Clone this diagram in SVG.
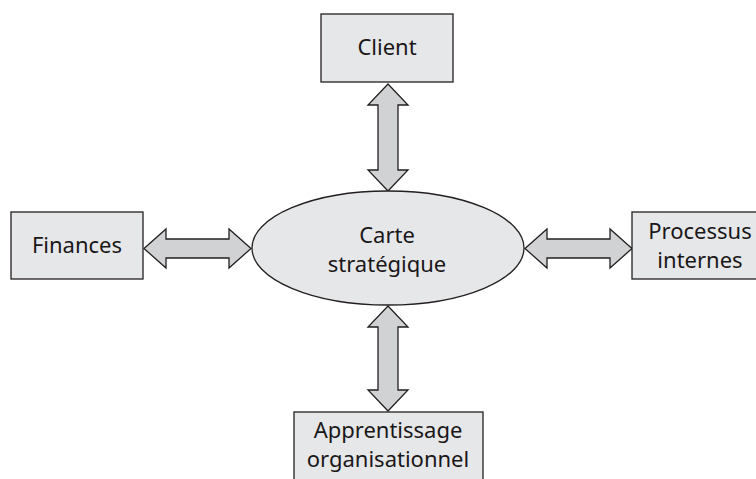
<svg xmlns="http://www.w3.org/2000/svg" width="756" height="479" viewBox="0 0 756 479">
  <style>
    .box { fill: #e6e7e8; stroke: #231f20; stroke-width: 1.3; }
    .arrow { fill: #d1d2d4; stroke: #231f20; stroke-width: 1.3; stroke-linejoin: miter; }
    .lbl { font-family: "Noto Sans", "Open Sans", "Liberation Sans", sans-serif; font-size: 22px; fill: #1a1718; text-anchor: middle; }
  </style>
  <rect width="756" height="479" fill="#ffffff"/>

  <g id="connectors">
    <path class="arrow" d="M388,84 L408,105 L398,105 L398,170 L408,170 L388,191 L368,170 L378,170 L378,105 L368,105 Z"/>
    <path class="arrow" d="M388,306 L408,327 L398,327 L398,390 L408,390 L388,411 L368,390 L378,390 L378,327 L368,327 Z"/>
    <path class="arrow" d="M144,248.5 L166,229 L166,239 L229,239 L229,229 L251,248.5 L229,268 L229,258 L166,258 L166,268 Z"/>
    <path class="arrow" d="M525,248.5 L547,229 L547,239 L610,239 L610,229 L632,248.5 L610,268 L610,258 L547,258 L547,268 Z"/>
  </g>

  <g id="client">
    <rect class="box" x="321" y="14" width="132" height="68"/>
    <text class="lbl" x="387" y="55">Client</text>
  </g>

  <g id="finances">
    <rect class="box" x="11" y="212" width="132" height="67"/>
    <text class="lbl" x="77" y="253">Finances</text>
  </g>

  <g id="carte">
    <ellipse class="box" cx="388" cy="248" rx="136" ry="57"/>
    <text class="lbl" x="387" y="243">Carte</text>
    <text class="lbl" x="387" y="272">stratégique</text>
  </g>

  <g id="processus">
    <rect class="box" x="632" y="212" width="136" height="67"/>
    <text class="lbl" x="700" y="239">Processus</text>
    <text class="lbl" x="700" y="268">internes</text>
  </g>

  <g id="apprentissage">
    <rect class="box" x="294" y="412" width="189" height="80"/>
    <text class="lbl" x="388" y="438">Apprentissage</text>
    <text class="lbl" x="388" y="467">organisationnel</text>
  </g>
</svg>
